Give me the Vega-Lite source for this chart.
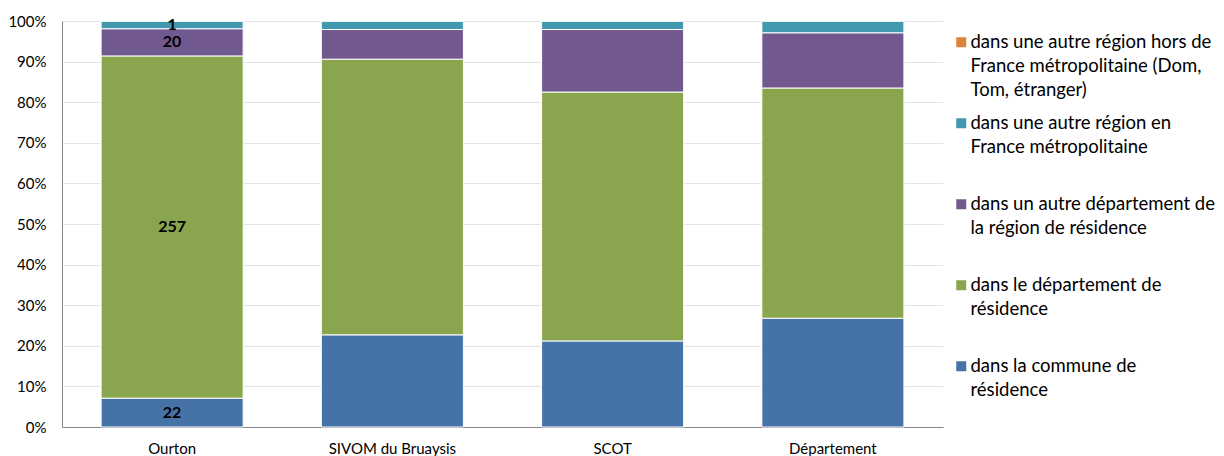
{
  "$schema": "https://vega.github.io/schema/vega-lite/v6.json",
  "autosize": "none",
  "width": 881,
  "height": 406,
  "padding": {"left": 62, "top": 21, "right": 281, "bottom": 29},
  "background": "white",
  "config": {
    "view": {"stroke": null},
    "font": "Lato",
    "style": {"guide-label": {"lineHeight": 24}}
  },
  "data": {
    "values": [
      {"zone": "Ourton", "type": "dans la commune de résidence", "share": 7.1, "label": 22},
      {"zone": "Ourton", "type": "dans le département de résidence", "share": 84.3, "label": 257},
      {"zone": "Ourton", "type": "dans un autre département de la région de résidence", "share": 6.7, "label": 20},
      {"zone": "Ourton", "type": "dans une autre région en France métropolitaine", "share": 1.9, "label": 1},
      {"zone": "Ourton", "type": "dans une autre région hors de France métropolitaine (Dom, Tom, étranger)", "share": 0, "label": null},
      {"zone": "SIVOM du Bruaysis", "type": "dans la commune de résidence", "share": 22.7, "label": null},
      {"zone": "SIVOM du Bruaysis", "type": "dans le département de résidence", "share": 67.9, "label": null},
      {"zone": "SIVOM du Bruaysis", "type": "dans un autre département de la région de résidence", "share": 7.3, "label": null},
      {"zone": "SIVOM du Bruaysis", "type": "dans une autre région en France métropolitaine", "share": 2.1, "label": null},
      {"zone": "SIVOM du Bruaysis", "type": "dans une autre région hors de France métropolitaine (Dom, Tom, étranger)", "share": 0, "label": null},
      {"zone": "SCOT", "type": "dans la commune de résidence", "share": 21.2, "label": null},
      {"zone": "SCOT", "type": "dans le département de résidence", "share": 61.3, "label": null},
      {"zone": "SCOT", "type": "dans un autre département de la région de résidence", "share": 15.4, "label": null},
      {"zone": "SCOT", "type": "dans une autre région en France métropolitaine", "share": 2.1, "label": null},
      {"zone": "SCOT", "type": "dans une autre région hors de France métropolitaine (Dom, Tom, étranger)", "share": 0, "label": null},
      {"zone": "Département", "type": "dans la commune de résidence", "share": 26.8, "label": null},
      {"zone": "Département", "type": "dans le département de résidence", "share": 56.7, "label": null},
      {"zone": "Département", "type": "dans un autre département de la région de résidence", "share": 13.6, "label": null},
      {"zone": "Département", "type": "dans une autre région en France métropolitaine", "share": 2.9, "label": null},
      {"zone": "Département", "type": "dans une autre région hors de France métropolitaine (Dom, Tom, étranger)", "share": 0, "label": null}
    ]
  },
  "transform": [
    {"stack": "share", "groupby": ["zone"], "sort": [{"field": "type", "order": "ascending"}], "offset": "normalize", "as": ["y0", "y1"]}
  ],
  "layer": [
    {
      "mark": {"type": "bar", "stroke": "white", "strokeWidth": 1},
      "encoding": {
        "x": {
          "field": "zone", "type": "nominal",
          "sort": ["Ourton", "SIVOM du Bruaysis", "SCOT", "Département"],
          "scale": {"paddingInner": 0.355, "paddingOuter": 0.1775},
          "axis": {"title": null, "labelAngle": 0, "ticks": false, "domainColor": "#868686", "labelPadding": 14, "labelFontSize": 15, "labelColor": "#000", "labelFont": "Lato"}
        },
        "y": {
          "field": "y1", "type": "quantitative",
          "scale": {"domain": [0, 1]},
          "axis": {"title": null, "format": ".0%", "values": [0, 0.1, 0.2, 0.3, 0.4, 0.5, 0.6, 0.7, 0.8, 0.9, 1], "ticks": false, "domain": true, "domainColor": "#868686", "gridColor": "#e4e4e4", "labelPadding": 16, "labelFontSize": 15, "labelColor": "#000", "labelFont": "Lato"}
        },
        "y2": {"field": "y0"},
        "color": {
          "field": "type", "type": "nominal",
          "scale": {
            "domain": [
              "dans une autre région hors de France métropolitaine (Dom, Tom, étranger)",
              "dans une autre région en France métropolitaine",
              "dans un autre département de la région de résidence",
              "dans le département de résidence",
              "dans la commune de résidence"
            ],
            "range": ["#DB843D", "#4198AF", "#71588F", "#89A54E", "#4572A7"]
          },
          "legend": {
            "title": null,
            "orient": "none",
            "legendX": 890,
            "legendY": 12,
            "padding": 0,
            "symbolType": "square",
            "symbolSize": 100,
            "symbolStrokeWidth": 0,
            "labelFontSize": 18.5,
            "labelFont": "Lato",
            "labelColor": "#000",
            "labelLimit": 300,
            "labelOffset": 0,
            "labelBaseline": "middle",
            "rowPadding": 14,
            "labelExpr": "datum.label == 'dans une autre région hors de France métropolitaine (Dom, Tom, étranger)' ? ['dans une autre région hors de', 'France métropolitaine (Dom,', 'Tom, étranger)'] : datum.label == 'dans une autre région en France métropolitaine' ? ['dans une autre région en', 'France métropolitaine', ''] : datum.label == 'dans un autre département de la région de résidence' ? ['dans un autre département de', 'la région de résidence', ''] : datum.label == 'dans le département de résidence' ? ['dans le département de', 'résidence', ''] : ['dans la commune de', 'résidence', '']"
          }
        }
      }
    },
    {
      "transform": [
        {"filter": "datum.label != null"},
        {"fold": ["y0", "y1"], "as": ["bound", "pos"]}
      ],
      "mark": {"type": "text", "fontWeight": "bold", "fontSize": 16, "color": "#000", "font": "Lato"},
      "encoding": {
        "x": {"field": "zone", "type": "nominal", "sort": ["Ourton", "SIVOM du Bruaysis", "SCOT", "Département"]},
        "y": {"aggregate": "mean", "field": "pos", "type": "quantitative"},
        "detail": {"field": "type"},
        "text": {"field": "label", "type": "quantitative"}
      }
    }
  ]
}
